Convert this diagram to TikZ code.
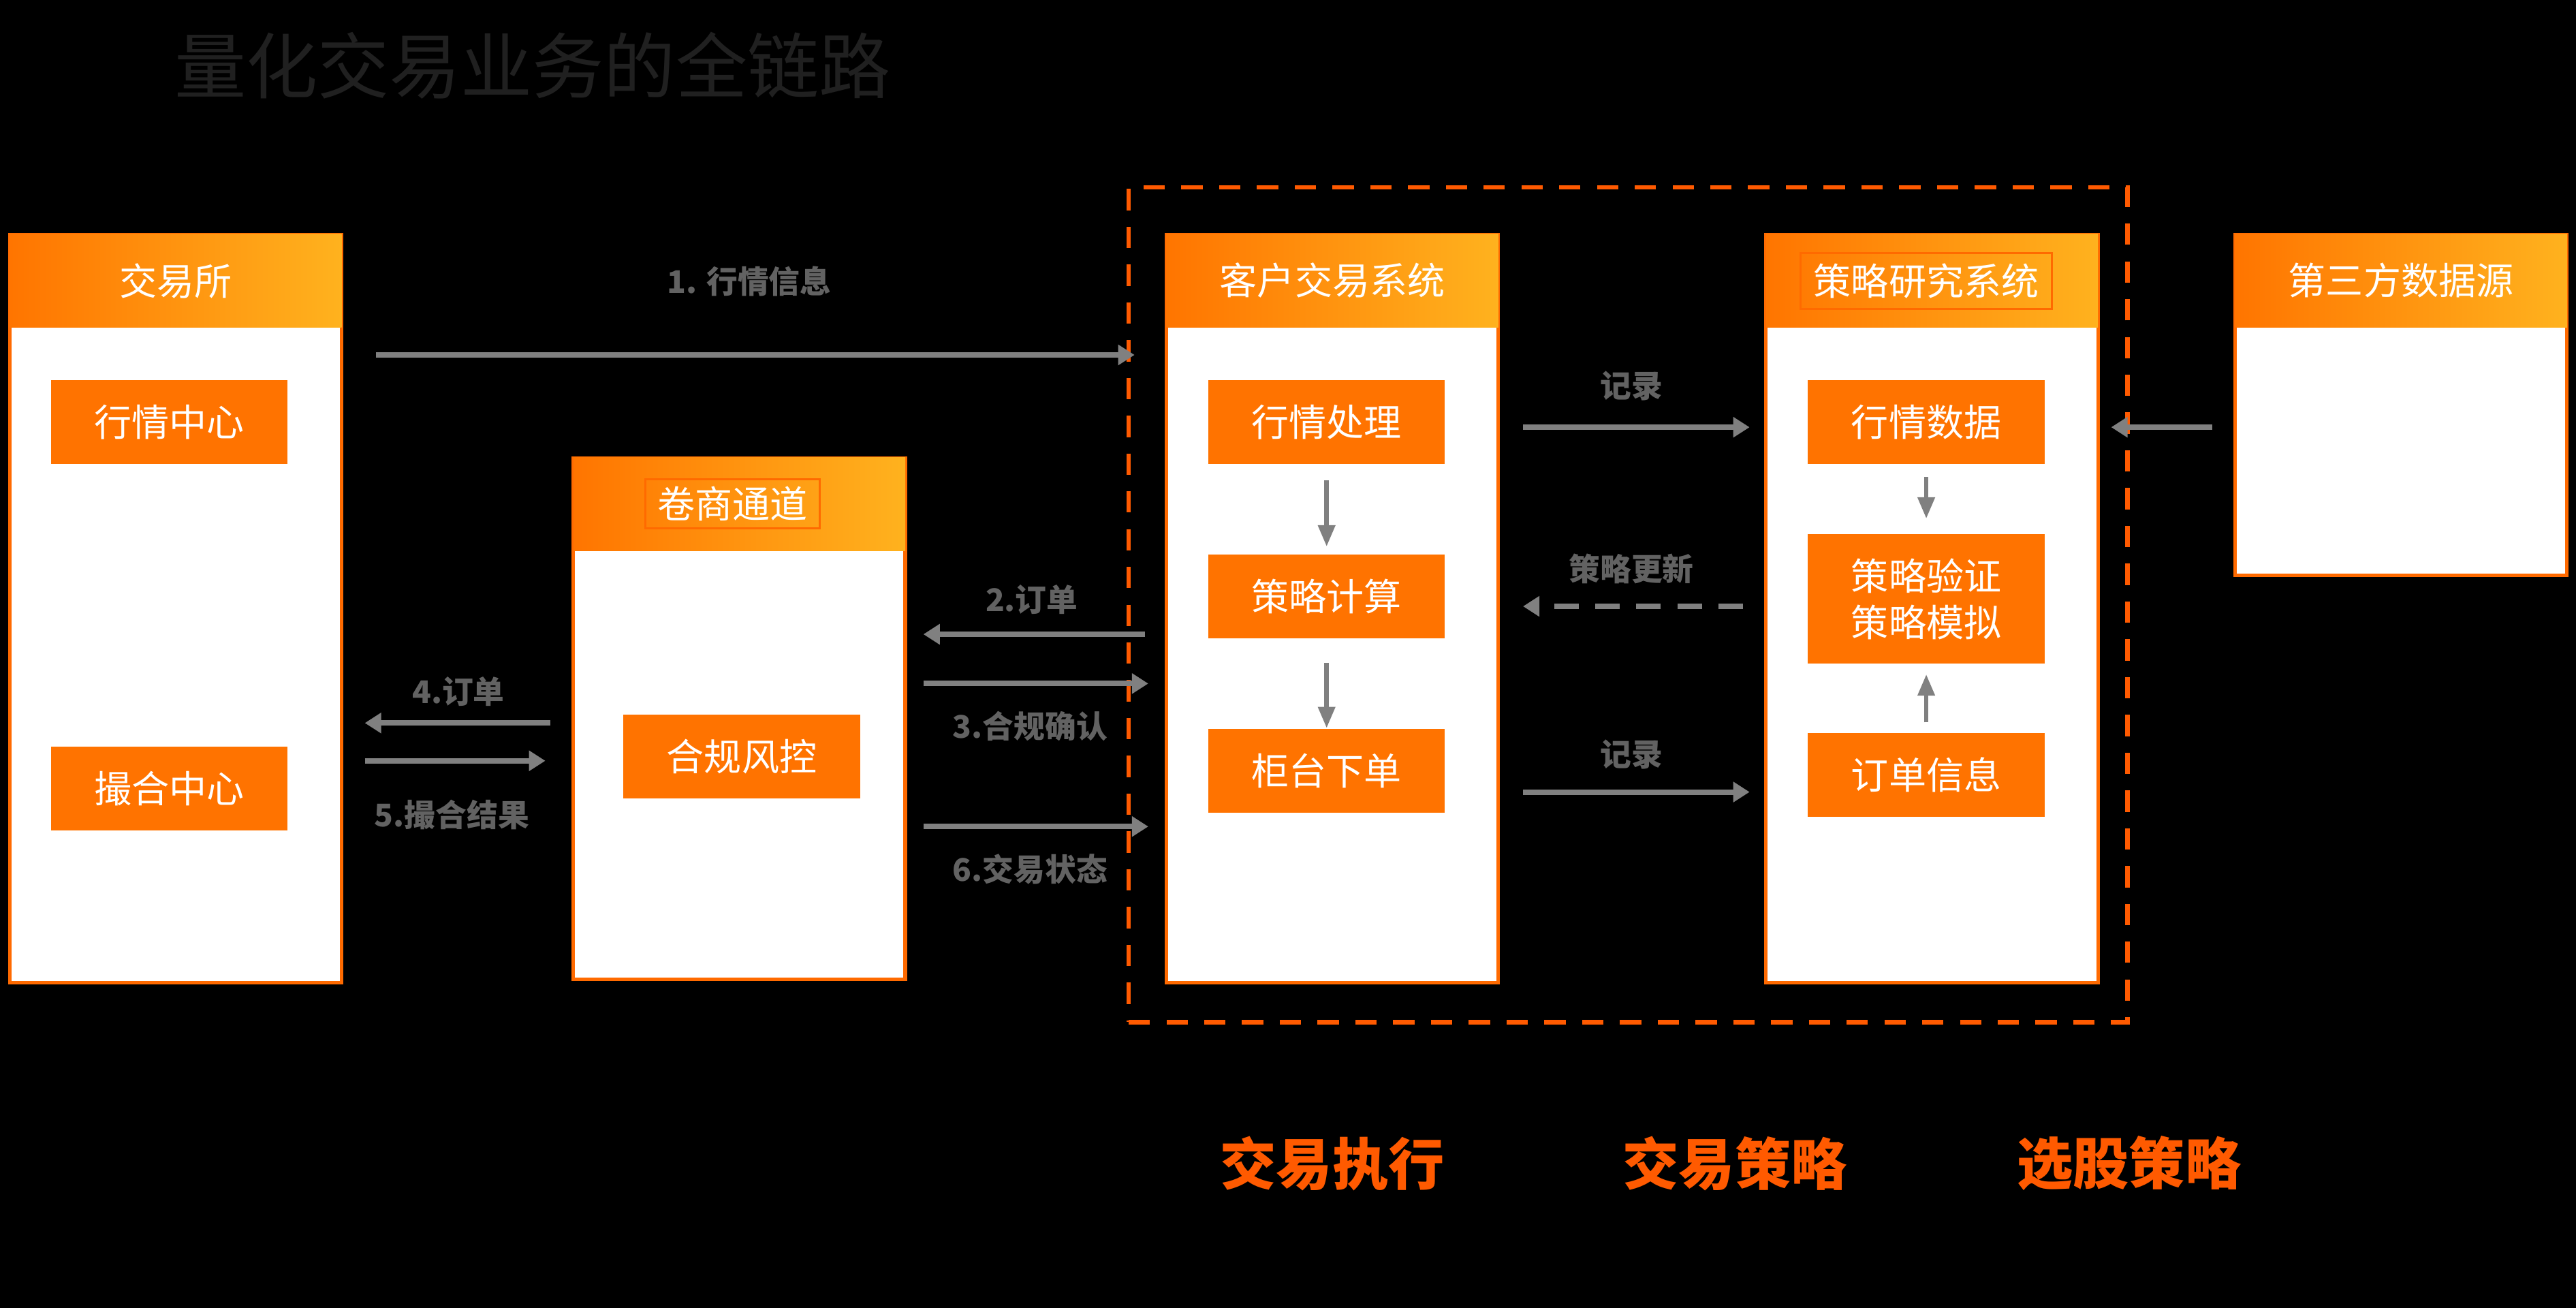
\documentclass[tikz,border=0pt]{standalone}
\usepackage{fontspec}
\setmainfont{Noto Sans CJK SC}
\definecolor{hdorange}{HTML}{FF7500}
\definecolor{hdyellow}{HTML}{FFB21E}
\definecolor{boxorange}{HTML}{FF7300}
\definecolor{lineorange}{HTML}{FF6A00}
\definecolor{zoneorange}{HTML}{FF5A00}
\definecolor{flowgray}{HTML}{808080}
\definecolor{lblgray}{HTML}{626262}
\definecolor{titlegray}{HTML}{202020}
\tikzset{panel/.style = {draw = lineorange, line width = 1.2pt, fill = white, minimum width = 4.04cm, inner sep = 0}}
\tikzset{head/.style = {left color = hdorange, right color = hdyellow, minimum width = 4.04cm, minimum height = 1.14cm, text = white, font = \fontsize{13}{15}\selectfont, inner sep = 0}}
\tikzset{hdframe/.style = {draw = lineorange, line width = .7pt, text = white, font = \fontsize{13}{15}\selectfont, inner sep = 0}}
\tikzset{item/.style = {fill = boxorange, minimum width = 2.88cm, minimum height = 1.02cm, text = white, font = \fontsize{13}{16}\selectfont, inner sep = 0}}
\tikzset{flow/.style = {draw = flowgray, line width = 1.9pt, -{Triangle[length = 0.2cm, width = 0.24cm]}}}
\tikzset{vflow/.style = {draw = flowgray, line width = 1.6pt, -{Triangle[length = 0.26cm, width = 0.2cm]}}}
\tikzset{lbl/.style = {text = lblgray, font = \bfseries\fontsize{10.8}{12}\selectfont}}
\tikzset{tag/.style = {text = zoneorange, font = \bfseries\fontsize{19.4}{22}\selectfont}}
\tikzset{zone/.style = {draw = zoneorange, line width = 1.6pt, dash pattern = on 0.26cm off 0.2cm, minimum width = 12.16cm, minimum height = 10.16cm}}
\usetikzlibrary{arrows.meta,calc,positioning}

\begin{document}
\begin{tikzpicture}
    \useasboundingbox (0,0) rectangle (31.36,15.92);
    \fill[black] (0,0) rectangle (31.36,15.92);
    \node[anchor = west, text = titlegray, font = \fontsize{24.8}{28}\selectfont] (title) at (2.0,15.12) {量化交易业务的全链路};
    % panels
    \node[panel, minimum height = 9.1cm] (exch) at (2.14,8.51) {};
    \node[head, below = 0pt of exch.north] (exch_hd) {交易所};
    \node[panel, minimum height = 6.34cm] (broker) at (9.0,7.17) {};
    \node[head, below = 0pt of broker.north] (broker_hd) {};
    \node[hdframe, minimum width = 2.12cm, minimum height = 0.6cm] (broker_tt) at (8.92,9.79) {卷商通道};
    \node[panel, minimum height = 9.1cm] (client) at (16.22,8.51) {};
    \node[head, below = 0pt of client.north] (client_hd) {客户交易系统};
    \node[panel, minimum height = 9.1cm] (research) at (23.52,8.51) {};
    \node[head, below = 0pt of research.north] (research_hd) {};
    \node[hdframe, minimum width = 3.06cm, minimum height = 0.68cm] (research_tt) at (23.45,12.5) {策略研究系统};
    \node[panel, minimum height = 4.14cm] (third) at (29.23,10.99) {};
    \node[head, below = 0pt of third.north] (third_hd) {第三方数据源};
    % items
    \node[item] (quote) at (2.06,10.78) {行情中心};
    \node[item] (match) at (2.06,6.32) {撮合中心};
    \node[item] (risk) at (9.03,6.71) {合规风控};
    \node[item] (proc) at (16.15,10.78) {行情处理};
    \node[item] (strat) at (16.15,8.66) {策略计算};
    \node[item] (order) at (16.15,6.54) {柜台下单};
    \node[item] (data) at (23.45,10.78) {行情数据};
    \node[item, minimum height = 1.58cm, align = center] (verify) at (23.45,8.63) {策略验证\\策略模拟};
    \node[item] (info) at (23.45,6.49) {订单信息};
    % levels of the flows
    \coordinate (feed) at (0,11.6);
    \coordinate (rec) at (0,10.72);
    \coordinate (upd) at (0,8.54);
    \coordinate (rec2) at (0,6.28);
    \coordinate (ord) at (0,8.2);
    \coordinate (ack) at (0,7.6);
    \coordinate (stat) at (0,5.86);
    \coordinate (ord4) at (0,7.12);
    \coordinate (fill5) at (0,6.66);
    \node[zone] (exec) at (19.82,8.56) {};
    \draw[flow, shorten <= 0.4cm, shorten >= -0.1cm] (exch.east |- feed) -- (exec.west |- feed);
    \draw[flow, shorten <= 0.28cm, shorten >= 0.18cm] (client.east |- rec) -- (research.west |- rec);
    \draw[flow, dash pattern = on 0.3cm off 0.2cm, shorten <= 0.26cm, shorten >= 0.28cm] (research.west |- upd) -- (client.east |- upd);
    \draw[flow, shorten <= 0.28cm, shorten >= 0.18cm] (client.east |- rec2) -- (research.west |- rec2);
    \draw[flow, shorten <= 0.26cm, shorten >= 0.14cm] (third.west |- rec) -- (research.east |- rec);
    \draw[flow, shorten <= 0.24cm, shorten >= 0.2cm] (client.west |- ord) -- (broker.east |- ord);
    \draw[flow, shorten <= 0.2cm, shorten >= 0.2cm] (broker.east |- ack) -- (client.west |- ack);
    \draw[flow, shorten <= 0.2cm, shorten >= 0.2cm] (broker.east |- stat) -- (client.west |- stat);
    \draw[flow, shorten <= 0.26cm, shorten >= 0.26cm] (broker.west |- ord4) -- (exch.east |- ord4);
    \draw[flow, shorten <= 0.26cm, shorten >= 0.32cm] (exch.east |- fill5) -- (broker.west |- fill5);
    \draw[vflow, shorten <= 0.19cm, shorten >= 0.09cm] (proc) -- (strat);
    \draw[vflow, shorten <= 0.29cm] (strat) -- (order);
    \draw[vflow, shorten <= 0.15cm, shorten >= 0.18cm] (data) -- (verify);
    \draw[vflow, shorten <= 0.12cm, shorten >= 0.12cm] (info) -- (verify);
    % labels
    \node[lbl] (feed_lb) at (9.12,12.5) {1. 行情信息};
    \node[lbl] (rec_lb) at (19.86,11.22) {记录};
    \node[lbl] (upd_lb) at (19.86,9.0) {策略更新};
    \node[lbl] (rec2_lb) at (19.86,6.74) {记录};
    \node[lbl] (ord_lb) at (12.56,8.62) {2.订单};
    \node[lbl] (ack_lb) at (12.54,7.08) {3.合规确认};
    \node[lbl] (stat_lb) at (12.54,5.34) {6.交易状态};
    \node[lbl] (ord4_lb) at (5.58,7.5) {4.订单};
    \node[lbl] (fill5_lb) at (5.5,6.0) {5.撮合结果};
    \node[tag] (tag_exec) at (16.22,1.76) {交易执行};
    \node[tag] (tag_strat) at (21.12,1.76) {交易策略};
    \node[tag] (tag_pick) at (25.92,1.76) {选股策略};
\end{tikzpicture}
\end{document}
